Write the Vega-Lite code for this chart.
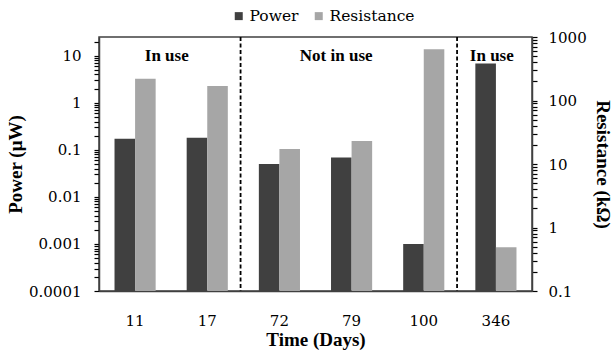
{
  "$schema": "https://vega.github.io/schema/vega-lite/v6.json",
  "width": 433,
  "height": 254,
  "autosize": {"type": "none"},
  "padding": {"left": 99, "top": 37, "right": 84, "bottom": 63},
  "background": "white",
  "config": {
    "view": {"stroke": "#404040", "strokeWidth": 1.5},
    "axis": {
      "labelFont": "DejaVu Serif",
      "labelFontSize": 15,
      "labelColor": "black",
      "titleFont": "Liberation Serif",
      "titleFontSize": 19,
      "titleFontWeight": "bold",
      "titleColor": "black",
      "domainColor": "#404040",
      "domainWidth": 1.5
    },
    "legend": {
      "labelFont": "DejaVu Serif",
      "labelFontSize": 15.5,
      "labelColor": "black"
    }
  },
  "datasets": {
    "measurements": [
      {"day": "11", "series": "Power", "value": 0.171},
      {"day": "17", "series": "Power", "value": 0.18},
      {"day": "72", "series": "Power", "value": 0.05},
      {"day": "79", "series": "Power", "value": 0.069},
      {"day": "100", "series": "Power", "value": 0.001},
      {"day": "346", "series": "Power", "value": 6.8},
      {"day": "11", "series": "Resistance", "value": 220},
      {"day": "17", "series": "Resistance", "value": 169},
      {"day": "72", "series": "Resistance", "value": 17.2},
      {"day": "79", "series": "Resistance", "value": 23},
      {"day": "100", "series": "Resistance", "value": 640},
      {"day": "346", "series": "Resistance", "value": 0.49}
    ],
    "dividers": [
      {"day": "17"},
      {"day": "100"}
    ],
    "notes": [
      {"label": "In use", "day": "11", "level": 10},
      {"label": "Not in use", "day": "72", "level": 10},
      {"label": "In use", "day": "346", "level": 10}
    ]
  },
  "layer": [
    {
      "layer": [
        {
          "data": {"name": "measurements"},
          "transform": [{"filter": "datum.series == 'Power'"}],
          "mark": {"type": "bar", "color": "#404040"},
          "encoding": {
            "x": {
              "field": "day", "type": "nominal",
              "sort": ["11", "17", "72", "79", "100", "346"],
              "scale": {"paddingInner": 0.43, "paddingOuter": 0.215},
              "axis": {"title": "Time (Days)", "labelAngle": 0, "ticks": false, "labelPadding": 22, "titlePadding": 2, "grid": false}
            },
            "xOffset": {"field": "series", "type": "nominal", "sort": ["Power", "Resistance"], "scale": {"domain": ["Power", "Resistance"], "paddingInner": 0, "paddingOuter": 0}},
            "y": {
              "field": "value", "type": "quantitative",
              "scale": {"type": "log", "domain": [0.0001, 25], "nice": false},
              "axis": {
                "orient": "left",
                "title": "Power (μW)",
                "format": "~g",
                "grid": false,
                "zindex": 1,
                "values": [0.0001,0.0002,0.0003,0.0004,0.0005,0.0006,0.0007,0.0008,0.0009,0.001,0.002,0.003,0.004,0.005,0.006,0.007,0.008,0.009,0.01,0.02,0.03,0.04,0.05,0.06,0.07,0.08,0.09,0.1,0.2,0.3,0.4,0.5,0.6,0.7,0.8,0.9,1,2,3,4,5,6,7,8,9,10,20],
                "labelExpr": "abs(log(datum.value)/LN10 - round(log(datum.value)/LN10)) < 0.001 ? datum.label : ''",
                "labelOverlap": false,
                "ticks": true,
                "tickSize": 5,
                "tickColor": "black",
                "tickWidth": 1.2,
                "labelPadding": 13,
                "titlePadding": 3
              }
            },
            "y2": {"datum": 0.0001},
            "color": {
              "field": "series", "type": "nominal",
              "scale": {"domain": ["Power", "Resistance"], "range": ["#404040", "#a6a6a6"]},
              "legend": {
                "orient": "none", "direction": "horizontal", "title": null,
                "legendX": 132, "legendY": -29,
                "symbolType": "square", "symbolSize": 64, "symbolStrokeWidth": 0,
                "labelOffset": 3, "columnPadding": 12
              }
            }
          }
        },
        {
          "data": {"name": "dividers"},
          "mark": {"type": "rule", "color": "black", "strokeWidth": 1.8, "strokeDash": [4, 2.5]},
          "encoding": {
            "x": {
              "field": "day", "type": "nominal",
              "sort": ["11", "17", "72", "79", "100", "346"],
              "bandPosition": 1.31
            }
          }
        },
        {
          "data": {"name": "notes"},
          "transform": [{"filter": "datum.day == '11'"}],
          "mark": {"type": "text", "font": "Liberation Serif", "fontSize": 17, "fontWeight": "bold", "baseline": "middle", "align": "center", "color": "black"},
          "encoding": {
            "x": {"field": "day", "type": "nominal", "sort": ["11", "17", "72", "79", "100", "346"], "bandPosition": 1.27},
            "y": {"field": "level", "type": "quantitative"},
            "text": {"field": "label"}
          }
        },
        {
          "data": {"name": "notes"},
          "transform": [{"filter": "datum.day == '72'"}],
          "mark": {"type": "text", "font": "Liberation Serif", "fontSize": 17, "fontWeight": "bold", "baseline": "middle", "align": "center", "color": "black"},
          "encoding": {
            "x": {"field": "day", "type": "nominal", "sort": ["11", "17", "72", "79", "100", "346"], "bandPosition": 1.88},
            "y": {"field": "level", "type": "quantitative"},
            "text": {"field": "label"}
          }
        },
        {
          "data": {"name": "notes"},
          "transform": [{"filter": "datum.day == '346'"}],
          "mark": {"type": "text", "font": "Liberation Serif", "fontSize": 17, "fontWeight": "bold", "baseline": "middle", "align": "center", "color": "black"},
          "encoding": {
            "x": {"field": "day", "type": "nominal", "sort": ["11", "17", "72", "79", "100", "346"], "bandPosition": 0.4},
            "y": {"field": "level", "type": "quantitative"},
            "text": {"field": "label"}
          }
        }
      ]
    },
    {
      "data": {"name": "measurements"},
      "transform": [{"filter": "datum.series == 'Resistance'"}],
      "mark": {"type": "bar", "color": "#a6a6a6"},
      "encoding": {
        "x": {
          "field": "day", "type": "nominal",
          "sort": ["11", "17", "72", "79", "100", "346"]
        },
        "xOffset": {"field": "series", "type": "nominal", "sort": ["Power", "Resistance"]},
        "y": {
          "field": "value", "type": "quantitative",
          "scale": {"type": "log", "domain": [0.1, 1000], "nice": false},
          "axis": {
            "orient": "right",
            "title": "Resistance (kΩ)",
            "format": "~g",
            "grid": false,
            "zindex": 1,
            "values": [0.1,0.2,0.3,0.4,0.5,0.6,0.7,0.8,0.9,1,2,3,4,5,6,7,8,9,10,20,30,40,50,60,70,80,90,100,200,300,400,500,600,700,800,900,1000],
            "labelExpr": "abs(log(datum.value)/LN10 - round(log(datum.value)/LN10)) < 0.001 ? datum.label : ''",
            "labelOverlap": false,
            "ticks": true,
            "tickSize": 5,
            "tickColor": "black",
            "tickWidth": 1.2,
            "labelPadding": 11,
            "titlePadding": 6
          }
        },
        "y2": {"datum": 0.1},
        "color": {"field": "series", "type": "nominal"}
      }
    }
  ],
  "resolve": {"scale": {"y": "independent"}}
}
